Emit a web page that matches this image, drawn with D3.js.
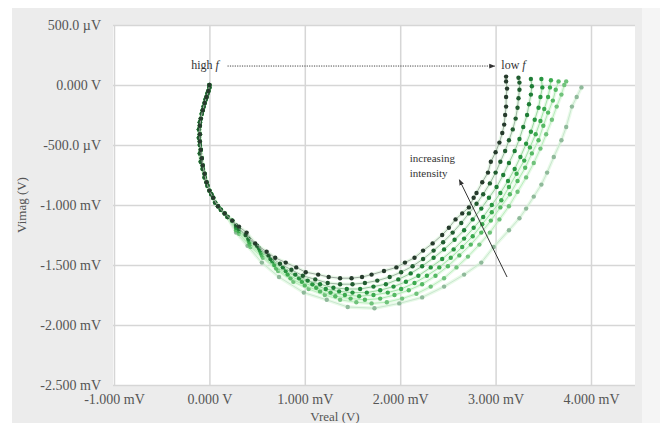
<!DOCTYPE html>
<html><head><meta charset="utf-8">
<script src="https://cdn.jsdelivr.net/npm/d3@7"></script>
<style>body{margin:0;background:#fff;} text{font-family:"Liberation Serif","Times New Roman",serif;}</style>
</head><body>
<svg id="c" width="660" height="423"></svg>
<script>
// ---- data (mV) ----
const xTicks = [-1, 0, 1, 2, 3, 4];
const xTickLabels = ["-1.000 mV", "0.000 V", "1.000 mV", "2.000 mV", "3.000 mV", "4.000 mV"];
const yTicks = [0.5, 0, -0.5, -1, -1.5, -2, -2.5];
const yTickLabels = ["500.0 \u00b5V", "0.000 V", "-500.0 \u00b5V", "-1.000 mV", "-1.500 mV", "-2.000 mV", "-2.500 mV"];

// high-frequency parts (the curves overlap there)
const highFA = [[0.00,0.00],[-0.01,-0.05],[-0.03,-0.10],[-0.05,-0.15],[-0.07,-0.21],[-0.09,-0.28],[-0.10,-0.34],[-0.10,-0.41],[-0.10,-0.47],[-0.09,-0.54],[-0.08,-0.61],[-0.07,-0.67],[-0.05,-0.74],[-0.03,-0.81],[0.00,-0.88],[0.04,-0.94],[0.09,-1.01],[0.16,-1.07],[0.24,-1.13]];
const highFB = [[0.00,-0.02],[-0.02,-0.07],[-0.04,-0.12],[-0.06,-0.18],[-0.08,-0.24],[-0.10,-0.31],[-0.11,-0.37],[-0.11,-0.44],[-0.10,-0.50],[-0.10,-0.57],[-0.09,-0.64],[-0.07,-0.70],[-0.05,-0.77],[-0.02,-0.84],[0.02,-0.91],[0.06,-0.98],[0.12,-1.04],[0.19,-1.10]];

const s1 = [[0.31,-1.18],[0.39,-1.23],[0.48,-1.32],[0.60,-1.39],[0.69,-1.44],[0.80,-1.48],[0.91,-1.52],[1.01,-1.56],[1.14,-1.58],[1.25,-1.60],[1.37,-1.61],[1.49,-1.61],[1.60,-1.60],[1.70,-1.58],[1.83,-1.55],[1.96,-1.52],[2.05,-1.48],[2.15,-1.44],[2.24,-1.38],[2.34,-1.32],[2.44,-1.25],[2.51,-1.19],[2.58,-1.12],[2.65,-1.07],[2.72,-1.02],[2.77,-0.94],[2.80,-0.90],[2.86,-0.81],[2.92,-0.73],[2.95,-0.64],[3.00,-0.56],[3.04,-0.48],[3.07,-0.40],[3.09,-0.33],[3.10,-0.25],[3.11,-0.18],[3.11,-0.10],[3.12,-0.03],[3.11,0.03],[3.11,0.07]];
const s2 = [[0.28,-1.17],[0.38,-1.25],[0.50,-1.34],[0.62,-1.42],[0.74,-1.49],[0.86,-1.54],[0.98,-1.59],[1.11,-1.62],[1.24,-1.65],[1.37,-1.66],[1.50,-1.66],[1.63,-1.65],[1.76,-1.63],[1.89,-1.60],[2.01,-1.56],[2.13,-1.51],[2.24,-1.45],[2.35,-1.38],[2.45,-1.31],[2.55,-1.23],[2.64,-1.15],[2.72,-1.07],[2.80,-0.99],[2.87,-0.91],[2.94,-0.82],[3.00,-0.73],[3.05,-0.64],[3.10,-0.55],[3.14,-0.46],[3.18,-0.37],[3.21,-0.28],[3.23,-0.19],[3.24,-0.11],[3.25,-0.04],[3.25,0.02],[3.24,0.06]];
const s3 = [[0.31,-1.20],[0.41,-1.28],[0.52,-1.36],[0.64,-1.45],[0.77,-1.52],[0.90,-1.58],[1.03,-1.63],[1.16,-1.66],[1.30,-1.69],[1.44,-1.70],[1.58,-1.70],[1.72,-1.68],[1.85,-1.66],[1.98,-1.62],[2.11,-1.57],[2.23,-1.51],[2.35,-1.44],[2.46,-1.37],[2.57,-1.29],[2.67,-1.21],[2.76,-1.12],[2.85,-1.03],[2.93,-0.94],[3.01,-0.85],[3.08,-0.75],[3.14,-0.65],[3.20,-0.55],[3.25,-0.45],[3.29,-0.35],[3.33,-0.25],[3.35,-0.16],[3.37,-0.08],[3.38,-0.01],[3.37,0.05]];
const s4 = [[0.28,-1.19],[0.41,-1.29],[0.53,-1.38],[0.66,-1.47],[0.80,-1.55],[0.94,-1.61],[1.08,-1.66],[1.22,-1.70],[1.36,-1.72],[1.50,-1.73],[1.65,-1.73],[1.79,-1.71],[1.93,-1.68],[2.06,-1.64],[2.19,-1.59],[2.32,-1.52],[2.44,-1.45],[2.56,-1.37],[2.67,-1.28],[2.77,-1.19],[2.87,-1.10],[2.96,-1.00],[3.05,-0.90],[3.13,-0.80],[3.20,-0.70],[3.26,-0.60],[3.32,-0.49],[3.37,-0.39],[3.41,-0.29],[3.45,-0.19],[3.47,-0.10],[3.49,-0.02],[3.48,0.05]];
const s5 = [[0.31,-1.22],[0.42,-1.31],[0.54,-1.40],[0.68,-1.50],[0.82,-1.58],[0.97,-1.64],[1.12,-1.69],[1.27,-1.73],[1.42,-1.75],[1.57,-1.76],[1.72,-1.75],[1.87,-1.73],[2.01,-1.70],[2.15,-1.65],[2.28,-1.59],[2.41,-1.52],[2.53,-1.44],[2.65,-1.35],[2.76,-1.26],[2.86,-1.16],[2.96,-1.06],[3.06,-0.96],[3.14,-0.85],[3.22,-0.74],[3.30,-0.63],[3.36,-0.52],[3.42,-0.41],[3.47,-0.30],[3.51,-0.20],[3.55,-0.10],[3.57,-0.02],[3.58,0.04]];
const s6 = [[0.28,-1.21],[0.42,-1.33],[0.55,-1.42],[0.70,-1.53],[0.85,-1.61],[1.00,-1.67],[1.16,-1.72],[1.32,-1.76],[1.48,-1.78],[1.63,-1.79],[1.79,-1.78],[1.94,-1.75],[2.09,-1.71],[2.23,-1.66],[2.37,-1.59],[2.50,-1.51],[2.62,-1.42],[2.74,-1.33],[2.85,-1.23],[2.95,-1.13],[3.05,-1.02],[3.15,-0.91],[3.23,-0.80],[3.31,-0.69],[3.38,-0.57],[3.45,-0.46],[3.50,-0.34],[3.55,-0.23],[3.60,-0.13],[3.63,-0.04],[3.66,0.03]];
const s7 = [[0.31,-1.24],[0.43,-1.35],[0.56,-1.44],[0.72,-1.55],[0.88,-1.64],[1.04,-1.70],[1.21,-1.75],[1.37,-1.79],[1.54,-1.81],[1.70,-1.82],[1.86,-1.81],[2.02,-1.78],[2.17,-1.74],[2.32,-1.68],[2.46,-1.61],[2.59,-1.52],[2.71,-1.43],[2.83,-1.33],[2.94,-1.23],[3.04,-1.12],[3.14,-1.01],[3.23,-0.89],[3.32,-0.77],[3.40,-0.65],[3.47,-0.53],[3.53,-0.41],[3.59,-0.29],[3.64,-0.18],[3.69,-0.08],[3.72,0.00],[3.74,0.03]];
const s8 = [[0.28,-1.23],[0.40,-1.34],[0.55,-1.48],[0.73,-1.60],[0.99,-1.73],[1.23,-1.79],[1.45,-1.85],[1.73,-1.86],[1.99,-1.82],[2.23,-1.77],[2.46,-1.68],[2.67,-1.58],[2.85,-1.48],[2.98,-1.35],[3.14,-1.21],[3.25,-1.11],[3.32,-1.03],[3.40,-0.93],[3.48,-0.83],[3.54,-0.73],[3.61,-0.60],[3.69,-0.46],[3.74,-0.35],[3.80,-0.18],[3.85,-0.10],[3.90,-0.02]];

const seriesList = [s8, s7, s6, s5, s4, s3, s2, s1];
const highFList = [highFB, highFA, highFB, highFA, highFB, highFA, highFB, highFA];
const markerColors = ["#8fb99a", "#70c27b", "#56b964", "#3caa4f", "#289540", "#1e7c35", "#215c30", "#263a2c"];
const lineColors   = ["#c9e6cf", "#b9eebd", "#aeeab3", "#a4e4aa", "#9bd8a2", "#98c8a0", "#9fb5a4", "#a0a8a2"];

// ---- drawing ----
const svg = d3.select("#c");
const W = 660, H = 423;
const plotL = 113, plotR = 635, plotT = 25, plotB = 385;

svg.append("rect").attr("x", 0).attr("y", 0).attr("width", W).attr("height", H).attr("fill", "#ffffff");
svg.append("rect").attr("x", 12).attr("y", 8).attr("width", W - 12).attr("height", H - 8).attr("fill", "#ececec");
svg.append("rect").attr("x", 642).attr("y", 8).attr("width", 18).attr("height", H - 8).attr("fill", "#f5f5f5");
svg.append("rect").attr("x", plotL).attr("y", plotT).attr("width", plotR - plotL).attr("height", plotB - plotT).attr("fill", "#ffffff");

const x = d3.scaleLinear().domain([-1, 4]).range([114, 591]);
const y = d3.scaleLinear().domain([0.5, -2.5]).range([plotT, plotB]);

const gx = svg.append("g").attr("transform", `translate(0,${plotB})`)
  .call(d3.axisBottom(x).tickValues(xTicks).tickSize(-(plotB - plotT)).tickPadding(9)
    .tickFormat((d, i) => xTickLabels[i]));
const gy = svg.append("g").attr("transform", `translate(${plotL},0)`)
  .call(d3.axisLeft(y).tickValues(yTicks).tickSize(-(plotR - plotL)).tickPadding(12)
    .tickFormat((d, i) => yTickLabels[i]));
[gx, gy].forEach(g => {
  g.select(".domain").remove();
  g.selectAll(".tick line").attr("stroke", "#d6d6d6").attr("stroke-width", 1.5);
  g.selectAll(".tick text").attr("fill", "#555").style("font-size", "14px")
    .style("font-family", "'Liberation Serif', serif");
});

// axis titles
svg.append("text").attr("x", 335).attr("y", 421).attr("text-anchor", "middle")
  .attr("fill", "#555").style("font-size", "13px").text("Vreal (V)");
svg.append("text").attr("transform", "translate(26,205) rotate(-90)").attr("text-anchor", "middle")
  .attr("fill", "#555").style("font-size", "13px").text("Vimag (V)");

// curves
const line = d3.line().x(d => x(d[0])).y(d => y(d[1]));
const plotG = svg.append("g");
seriesList.forEach((s, i) => {
  const pts = highFList[i].concat(s);
  plotG.append("path").datum(pts).attr("d", line).attr("fill", "none")
    .attr("stroke", "#d2f5d2").attr("stroke-width", 3.5).attr("stroke-opacity", 0.5);
});
seriesList.forEach((s, i) => {
  const pts = highFList[i].concat(s);
  plotG.append("path").datum(pts).attr("d", line).attr("fill", "none")
    .attr("stroke", lineColors[i]).attr("stroke-width", 1);
  plotG.selectAll(null).data(pts).enter().append("circle")
    .attr("cx", d => x(d[0])).attr("cy", d => y(d[1])).attr("r", 2.2)
    .attr("fill", markerColors[i]);
});

// annotations
const defs = svg.append("defs");
defs.append("marker").attr("id", "ah").attr("viewBox", "0 0 10 10").attr("refX", 9).attr("refY", 5)
  .attr("markerWidth", 6).attr("markerHeight", 6).attr("orient", "auto")
  .append("path").attr("d", "M0,1 L10,5 L0,9 Z").attr("fill", "#333");

svg.append("text").attr("x", x(-0.19)).attr("y", y(0.133)).attr("fill", "#333")
  .style("font-size", "12px").html('high <tspan font-style="italic">f</tspan>');
svg.append("line").attr("x1", x(0.19)).attr("y1", y(0.158)).attr("x2", x(2.99)).attr("y2", y(0.158))
  .attr("stroke", "#444").attr("stroke-width", 1).attr("stroke-dasharray", "1.2,1.2")
  .attr("marker-end", "url(#ah)");
svg.append("text").attr("x", x(3.06)).attr("y", y(0.133)).attr("fill", "#333")
  .style("font-size", "12px").html('low <tspan font-style="italic">f</tspan>');

svg.append("text").attr("x", x(2.10)).attr("y", y(-0.64)).attr("fill", "#333")
  .style("font-size", "11px").text("increasing");
svg.append("text").attr("x", x(2.10)).attr("y", y(-0.77)).attr("fill", "#333")
  .style("font-size", "11px").text("intensity");
svg.append("line").attr("x1", x(3.12)).attr("y1", y(-1.60)).attr("x2", x(2.62)).attr("y2", y(-0.79))
  .attr("stroke", "#333").attr("stroke-width", 1).attr("marker-end", "url(#ah)");
</script>
</body></html>
